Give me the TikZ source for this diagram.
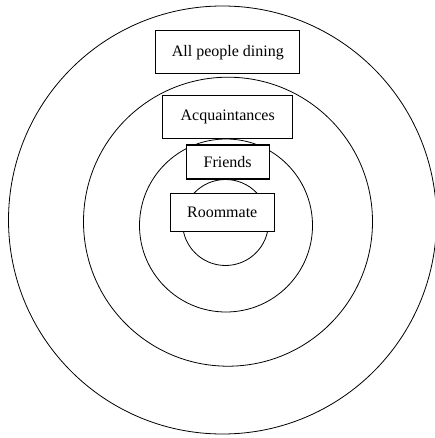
\documentclass[tikz,border=0pt]{standalone}
\usepackage{fontspec}
\setmainfont{Liberation Serif}
\begin{document}
\begin{tikzpicture}[x=1pt,y=-1pt,
ring/.style={circle,draw,line width=0.8pt,inner sep=0pt},
namebox/.style={draw,rectangle,fill=white,line width=1.1pt,inner sep=0pt,font=\fontsize{16}{19}\selectfont}]
\useasboundingbox (0,0) rectangle (435,438);
\draw (222.5,220) node[ring,minimum size=428pt] (dining) {};
\draw (228,221.7) node[ring,minimum size=289pt] (acq) {};
\draw (226,225.5) node[ring,minimum size=173pt] (friends) {};
\draw (225.5,222.5) node[ring,minimum size=86pt] (room) {};
\draw (227.8,52.3) node[namebox,minimum width=144pt,minimum height=43pt] (diningbox) {All people dining};
\draw (227.7,117.2) node[namebox,minimum width=130pt,minimum height=43pt] (acqbox) {Acquaintances};
\draw (227.7,162) node[namebox,minimum width=83pt,minimum height=34pt] (friendsbox) {Friends};
\draw (222.2,212.5) node[namebox,minimum width=104pt,minimum height=38pt] (roombox) {Roommate};

\end{tikzpicture}
\end{document}
